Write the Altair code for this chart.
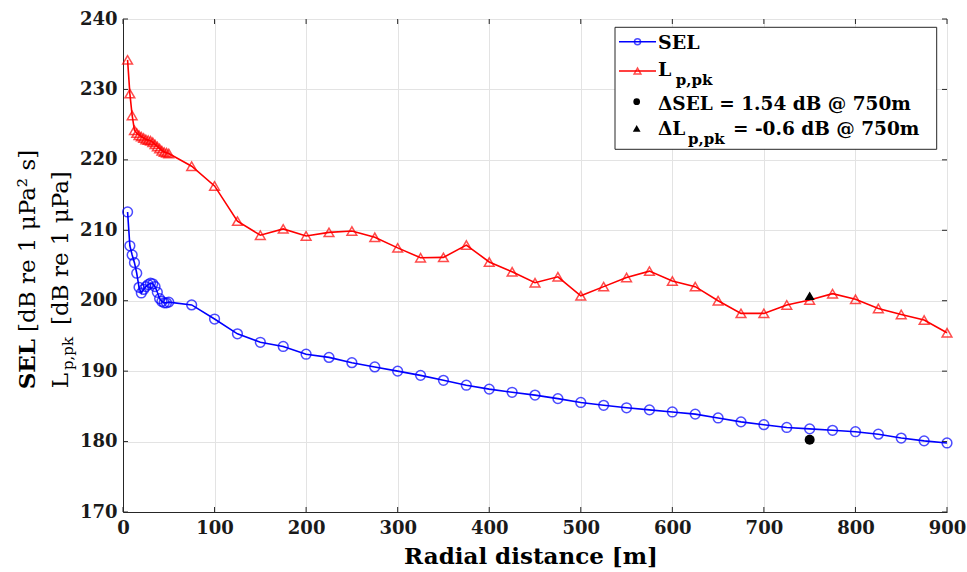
import altair as alt
import pandas as pd

# ---------------- data ----------------
distance_m = [5, 7.5, 10, 12.5, 15, 17.5, 20, 22.5, 25, 27.5, 30, 32.5, 35, 37.5, 40, 42.5, 45, 47.5, 50,
              75, 100, 125, 150, 175, 200, 225, 250, 275, 300, 325, 350, 375, 400, 425, 450, 475, 500,
              525, 550, 575, 600, 625, 650, 675, 700, 725, 750, 775, 800, 825, 850, 875, 900]

sel_db = [212.6, 207.8, 206.5, 205.4, 203.9, 201.9, 201.1, 201.6, 202.0, 202.3, 202.5, 202.4, 202.0, 201.2,
          200.3, 199.9, 199.7, 199.7, 199.8,
          199.4, 197.4, 195.3, 194.1, 193.5, 192.4, 191.95, 191.2, 190.6, 190.0, 189.4, 188.7, 188.0, 187.45,
          187.0, 186.6, 186.1, 185.55, 185.15, 184.8, 184.5, 184.2, 183.9, 183.35, 182.8, 182.4, 182.0, 181.8,
          181.6, 181.4, 181.05, 180.5, 180.1, 179.8]

lppk_db = [234.2, 229.4, 226.3, 224.2, 223.8, 223.5, 223.3, 223.1, 222.9, 222.8, 222.7, 222.5, 222.2, 221.9,
           221.6, 221.3, 221.1, 221.0, 220.9,
           219.1, 216.3, 211.3, 209.3, 210.2, 209.2, 209.7, 209.9, 209.0, 207.5, 206.1, 206.15, 207.9, 205.5,
           204.1, 202.55, 203.4, 200.7, 202.0, 203.3, 204.2, 202.8, 202.0, 200.0, 198.2, 198.2, 199.4, 200.1,
           201.0, 200.2, 198.9, 198.05, 197.25, 195.45]

series_names = ["SEL", "Lp,pk"]
series_colors = ["#0000ff", "#ff0000"]
series_shapes = ["circle", "triangle-up"]

delta_distance = [750]
delta_sel_value = [180.26]
delta_lppk_value = [200.7]

x_tick_values = [0, 100, 200, 300, 400, 500, 600, 700, 800, 900]
y_tick_values = [170, 180, 190, 200, 210, 220, 230, 240]

legend_sel = "SEL"
legend_l = "L"
legend_sub = "p,pk"
legend_dsel = "\u0394SEL = 1.54 dB @ 750m"
legend_dl = "\u0394L"
legend_dl_rest = "= -0.6 dB @ 750m"
x_title = "Radial distance [m]"
y_title1_bold = "SEL"
y_title1_rest = "[dB re 1 \u03bcPa\u00b2 s]"
y_title2_l = "L"
y_title2_sub = "p,pk"
y_title2_rest = "[dB re 1 \u03bcPa]"

# ---------------- frames ----------------
n = len(distance_m)
df = pd.DataFrame({
    "distance": distance_m * 2,
    "value": sel_db + lppk_db,
    "metric": [series_names[0]] * n + [series_names[1]] * n,
})
df_dsel = pd.DataFrame({"distance": delta_distance, "value": delta_sel_value})
df_dl = pd.DataFrame({"distance": delta_distance, "value": delta_lppk_value})
df_xt = pd.DataFrame({"distance": x_tick_values})
df_yt = pd.DataFrame({"value": y_tick_values})
one = pd.DataFrame({"k": [0]})

W, H = 824, 493
FONT = "DejaVu Serif"
DARK = "#262626"

xs = alt.Scale(domain=[0, 900], nice=False, zero=False)
ys = alt.Scale(domain=[170, 240], nice=False, zero=False)
color = alt.Color("metric:N", scale=alt.Scale(domain=series_names, range=series_colors), legend=None)
shape = alt.Shape("metric:N", scale=alt.Scale(domain=series_names, range=series_shapes), legend=None)

x_axis = alt.Axis(values=x_tick_values, title=None, grid=True, gridColor="#e3e3e3", gridWidth=1,
                  tickSize=0, domainColor=DARK, labelFont=FONT, labelFontWeight="bold",
                  labelFontSize=18, labelColor="#1a1a1a", labelPadding=7, labelFlush=False)
y_axis = alt.Axis(values=y_tick_values, title=None, grid=True, gridColor="#e3e3e3", gridWidth=1,
                  tickSize=0, domainColor=DARK, labelFont=FONT, labelFontWeight="bold",
                  labelFontSize=18, labelColor="#1a1a1a", labelPadding=6, labelFlush=False)

X = alt.X("distance:Q", scale=xs, axis=x_axis)
Y = alt.Y("value:Q", scale=ys, axis=y_axis)

base = alt.Chart(df).encode(x=X, y=Y, color=color, detail="metric:N")
lines = base.mark_line(strokeWidth=1.6)
points = base.mark_point(filled=False, strokeWidth=1.5, size=95).encode(shape=shape)

dsel = alt.Chart(df_dsel).mark_point(filled=True, shape="circle", size=100, color="black", opacity=1).encode(
    x=X, y=Y)
dl = alt.Chart(df_dl).mark_point(filled=True, shape="triangle-up", size=100, color="black", opacity=1).encode(
    x=X, y=Y)

# inward ticks (MATLAB box style)
xt_bottom = alt.Chart(df_xt).mark_rule(color=DARK, strokeWidth=1).encode(
    x=X, y=alt.value(H), y2=alt.value(H - 5))
xt_top = alt.Chart(df_xt).mark_rule(color=DARK, strokeWidth=1).encode(
    x=X, y=alt.value(0), y2=alt.value(5))
yt_left = alt.Chart(df_yt).mark_rule(color=DARK, strokeWidth=1).encode(
    y=Y, x=alt.value(0), x2=alt.value(5))
yt_right = alt.Chart(df_yt).mark_rule(color=DARK, strokeWidth=1).encode(
    y=Y, x=alt.value(W), x2=alt.value(W - 5))


def txt(s, x, y, size, weight="bold", angle=0, align="left", baseline="alphabetic"):
    return alt.Chart(one).mark_text(text=s, font=FONT, fontSize=size, fontWeight=weight, angle=angle,
                                    align=align, baseline=baseline, color="black").encode(
        x=alt.value(x), y=alt.value(y))


# legend
leg_box = alt.Chart(one).mark_rect(fill="white", stroke=DARK, strokeWidth=1).encode(
    x=alt.value(492), x2=alt.value(813.7), y=alt.value(8.3), y2=alt.value(130.3))
leg_line_sel = alt.Chart(one).mark_rule(color=series_colors[0], strokeWidth=1.5).encode(
    x=alt.value(496), x2=alt.value(533), y=alt.value(22.7))
leg_pt_sel = alt.Chart(one).mark_point(shape="circle", filled=False, color=series_colors[0], size=36,
                                       strokeWidth=1.5).encode(x=alt.value(514.5), y=alt.value(22.7))
leg_line_l = alt.Chart(one).mark_rule(color=series_colors[1], strokeWidth=1.5).encode(
    x=alt.value(496), x2=alt.value(533), y=alt.value(52))
leg_pt_l = alt.Chart(one).mark_point(shape="triangle-up", filled=False, color=series_colors[1], size=45,
                                     strokeWidth=1.5).encode(x=alt.value(514.5), y=alt.value(52))
leg_pt_dsel = alt.Chart(one).mark_point(shape="circle", filled=True, color="black", size=45,
                                        opacity=1).encode(x=alt.value(513.7), y=alt.value(82.7))
leg_pt_dl = alt.Chart(one).mark_point(shape="triangle-up", filled=True, color="black", size=60,
                                      opacity=1).encode(x=alt.value(513.7), y=alt.value(109.3))

legend_layers = [
    leg_box, leg_line_sel, leg_pt_sel, leg_line_l, leg_pt_l, leg_pt_dsel, leg_pt_dl,
    txt(legend_sel, 535, 30.3, 19),
    txt(legend_l, 535, 57, 19),
    txt(legend_sub, 552.7, 66, 15),
    txt(legend_dsel, 535, 91, 18.5),
    txt(legend_dl, 535, 116, 18.5),
    txt(legend_sub, 565, 125, 15),
    txt(legend_dl_rest, 610, 116, 18.5),
]

# axis titles
title_layers = [
    txt(x_title, 408, 545, 23, align="center"),
    txt(y_title1_bold, -88, 320, 23, angle=270, align="right"),
    txt(y_title1_rest, -88, 313, 23, weight="normal", angle=270, align="left"),
    txt(y_title2_l, -55, 354, 23, weight="normal", angle=270, align="right"),
    txt(y_title2_sub, -50, 351, 15, weight="normal", angle=270, align="left"),
    txt(y_title2_rest, -55, 306, 23, weight="normal", angle=270, align="left"),
]

chart = alt.layer(
    lines, points, dsel, dl, xt_bottom, xt_top, yt_left, yt_right, *legend_layers, *title_layers
).properties(
    width=W, height=H,
    padding={"left": 123, "top": 19, "right": 20, "bottom": 60},
    autosize=alt.AutoSizeParams(type="none"),
).configure_view(stroke=DARK, strokeWidth=1).configure(background="white")

chart.save("out.html", embed_options={"renderer": "svg", "actions": False})
